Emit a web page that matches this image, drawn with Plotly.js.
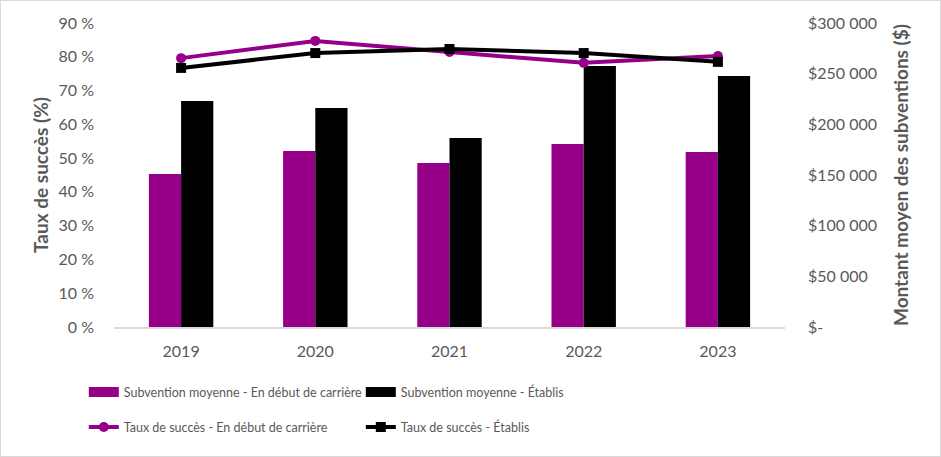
<!DOCTYPE html>
<html><head><meta charset="utf-8">
<script src="https://cdn.plot.ly/plotly-3.0.1.min.js"></script>
<style>
html,body{margin:0;padding:0;background:#fff;}
#wrap{position:relative;width:941px;height:457px;}
#chart{width:941px;height:457px;}
#frame{position:absolute;left:0;top:0;width:939px;height:455px;border:1px solid #d9d9d9;pointer-events:none;}
</style></head>
<body>
<div id="wrap"><div id="chart"></div><div id="frame"></div></div>
<script>
const years = ['2019','2020','2021','2022','2023'];
const grantEarly = [151000, 173700, 161800, 180600, 172700];
const grantEstablished = [223000, 216100, 186500, 257600, 247700];
const rateEarly = [79.6, 84.7, 81.4, 78.2, 80.2];
const rateEstablished = [76.7, 81.1, 82.3, 81.1, 78.5];
const pctTicks = [0,10,20,30,40,50,60,70,80,90];
const pctLabels = ['0 %','10 %','20 %','30 %','40 %','50 %','60 %','70 %','80 %','90 %'];
const moneyTicks = [0,50000,100000,150000,200000,250000,300000];
const moneyLabels = ['$-','$50 000','$100 000','$150 000','$200 000','$250 000','$300 000'];
const names = ['Subvention moyenne - En début de carrière','Subvention moyenne - Établis','Taux de succès - En début de carrière','Taux de succès - Établis'];

const PURPLE = '#960089';
const GREY = '#595959';
const FONT = 'Lato, "Liberation Sans", sans-serif';

const traces = [
  {type:'bar', x:years, y:grantEarly, name:names[0], marker:{color:PURPLE}, yaxis:'y', showlegend:false, hoverinfo:'none'},
  {type:'bar', x:years, y:grantEstablished, name:names[1], marker:{color:'#000000'}, yaxis:'y', showlegend:false, hoverinfo:'none'},
  // legend swatches for the bar series (thick line = rectangle swatch like the reference)
  {type:'scatter', mode:'lines', x:[years[0]], y:[null], name:names[0], line:{color:PURPLE, width:10}, yaxis:'y', legend:'legend', hoverinfo:'none'},
  {type:'scatter', mode:'lines', x:[years[0]], y:[null], name:names[1], line:{color:'#000000', width:10}, yaxis:'y', legend:'legend', hoverinfo:'none'},
  {type:'scatter', mode:'lines+markers', x:years, y:rateEarly, name:names[2], line:{color:PURPLE, width:4}, marker:{color:PURPLE, size:10, symbol:'circle'}, yaxis:'y2', legend:'legend2', hoverinfo:'none'},
  {type:'scatter', mode:'lines+markers', x:years, y:rateEstablished, name:names[3], line:{color:'#000000', width:4}, marker:{color:'#000000', size:10, symbol:'square'}, yaxis:'y2', legend:'legend2', hoverinfo:'none'}
];

const layout = {
  width:941, height:457,
  margin:{l:114, r:156, t:23, b:130},
  paper_bgcolor:'#fff', plot_bgcolor:'#fff',
  font:{family:FONT, size:16, color:GREY},
  barmode:'group', bargap:0.52, bargroupgap:0,
  showlegend:true,
  xaxis:{type:'category', showgrid:false, zeroline:false, showline:true, linecolor:'#d9d9d9', linewidth:1.5,
         ticks:'', tickfont:{size:16, color:GREY}, ticklabelstandoff:9},
  yaxis:{side:'right', range:[0,300000], tickvals:moneyTicks, ticktext:moneyLabels, showgrid:false, zeroline:false,
         showline:false, ticks:'', ticklabelstandoff:22, tickfont:{size:16, color:GREY},
         title:{text:'Montant moyen des subventions ($)', font:{size:19, color:GREY, family:FONT, weight:'bold'}, standoff:18}},
  yaxis2:{side:'left', overlaying:'y', range:[0,90], tickvals:pctTicks, ticktext:pctLabels, showgrid:false, zeroline:false,
          showline:false, ticks:'', ticklabelstandoff:19, tickfont:{size:16, color:GREY},
          title:{text:'Taux de succès (%)', font:{size:19, color:GREY, family:FONT, weight:'bold'}, standoff:4}},
  legend:{orientation:'h', x:-0.045, xanchor:'left', y:-0.166, yanchor:'top', entrywidth:232, entrywidthmode:'pixels',
          itemwidth:30, font:{size:12.5, color:GREY}, itemclick:false, bgcolor:'rgba(0,0,0,0)'},
  legend2:{orientation:'h', x:-0.045, xanchor:'left', y:-0.281, yanchor:'top', entrywidth:232, entrywidthmode:'pixels',
          itemwidth:30, font:{size:12.5, color:GREY}, itemclick:false, bgcolor:'rgba(0,0,0,0)'}
};

Plotly.newPlot('chart', traces, layout, {displayModeBar:false, staticPlot:true});
</script>
</body></html>
